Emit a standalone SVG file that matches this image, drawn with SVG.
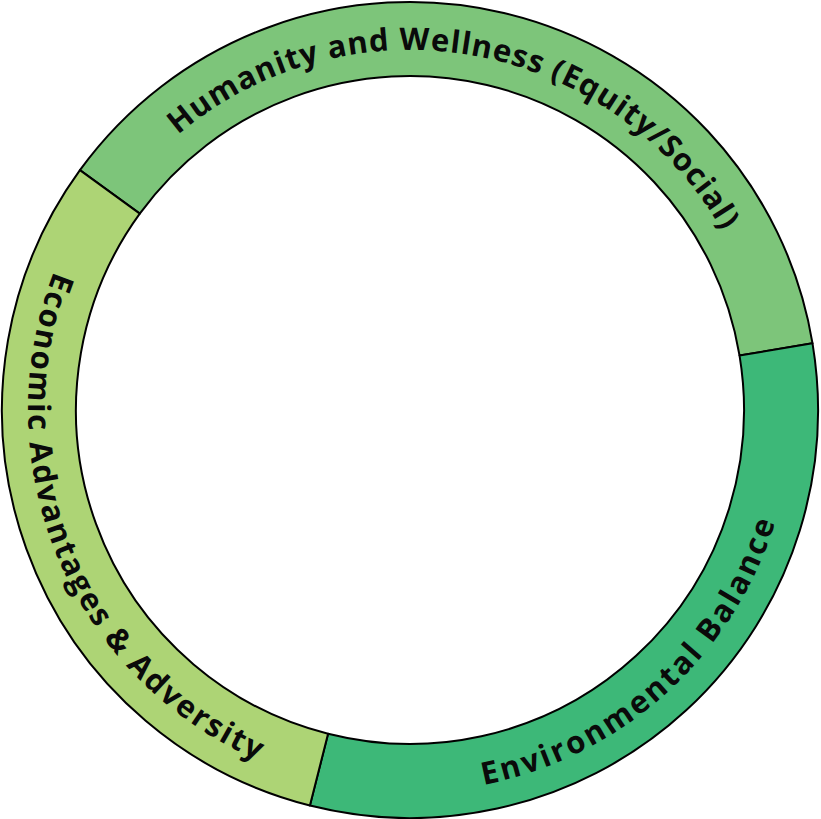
<svg xmlns="http://www.w3.org/2000/svg" xmlns:xlink="http://www.w3.org/1999/xlink" width="821" height="819" viewBox="0 0 821 819">
<style>
.seg{stroke:#000;stroke-width:2;stroke-linejoin:round}
.lbl{font-family:"Open Sans",Lato,"Liberation Sans",sans-serif;font-weight:700;font-size:31px;fill:#0a0a0a}
</style>
<defs>
<path id="tpH" d="M62.27,316.82 A360,360 0 0 1 768.63,441.38"/>
<path id="tpE" d="M204.19,88.18 A382,382 0 0 0 493.33,782.80"/>
<path id="tpN" d="M174.82,711.02 A382,382 0 0 0 733.96,207.57"/>
</defs>
<rect width="821" height="819" fill="#fff"/>
<g id="humanity">
<path class="seg" fill="#7DC57A" d="M79.92,170.18 A408,408 0 0 1 812.52,343.36 L739.51,355.45 A334,334 0 0 0 139.79,213.68 Z"/>
<text class="lbl"><textPath href="#tpH" startOffset="50%" text-anchor="middle" textLength="630" lengthAdjust="spacing">Humanity and Wellness (Equity/Social)</textPath></text>
</g>
<g id="environmental">
<path class="seg" fill="#3DB878" d="M812.52,343.36 A408,408 0 0 1 309.91,805.54 L328.07,733.80 A334,334 0 0 0 739.51,355.45 Z"/>
<text class="lbl"><textPath href="#tpN" startOffset="50%" text-anchor="middle" textLength="412" lengthAdjust="spacing">Environmental Balance</textPath></text>
</g>
<g id="economic">
<path class="seg" fill="#ADD475" d="M309.91,805.54 A408,408 0 0 1 79.92,170.18 L139.79,213.68 A334,334 0 0 0 328.07,733.80 Z"/>
<text class="lbl"><textPath href="#tpE" startOffset="50%" text-anchor="middle" textLength="585" lengthAdjust="spacing">Economic Advantages &amp; Adversity</textPath></text>
</g>
<g id="connectors"/>
</svg>
